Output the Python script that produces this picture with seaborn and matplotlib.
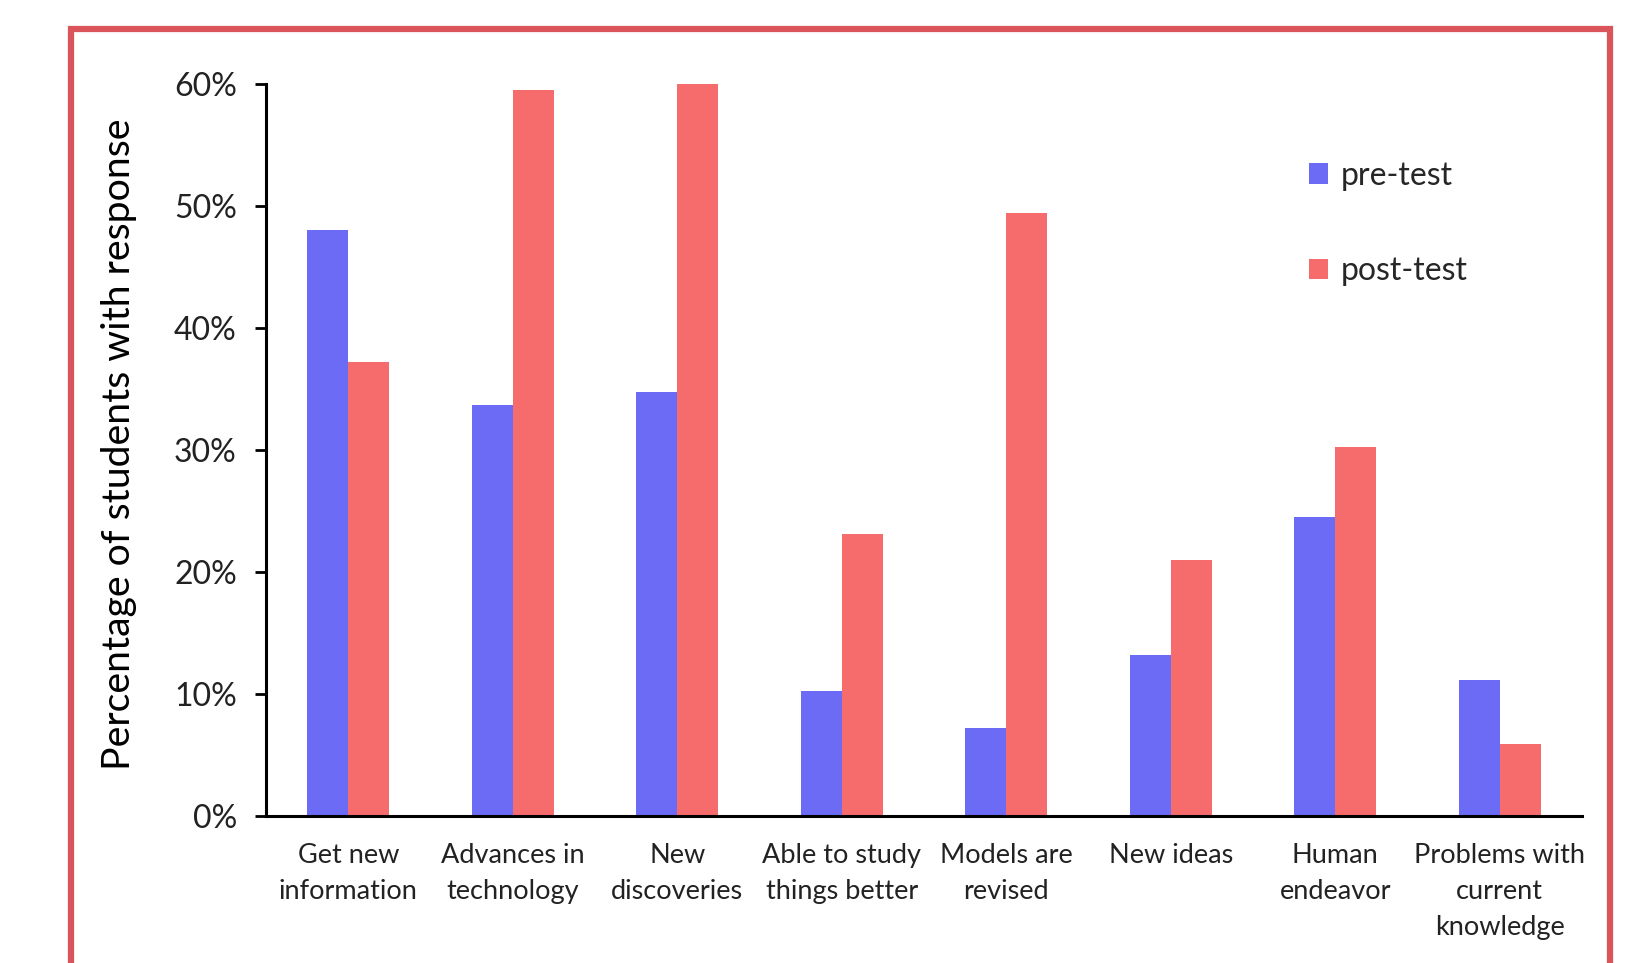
import numpy as np
import pandas as pd
import matplotlib
matplotlib.use("Agg")
import matplotlib.pyplot as plt
import seaborn as sns
from matplotlib.patches import Rectangle, Patch
from matplotlib.ticker import FuncFormatter

categories = ["Get new\ninformation", "Advances in\ntechnology", "New\ndiscoveries",
              "Able to study\nthings better", "Models are\nrevised", "New ideas",
              "Human\nendeavor", "Problems with\ncurrent\nknowledge"]
pre_test = [48.0, 33.7, 34.7, 10.2, 7.2, 13.2, 24.5, 11.1]
post_test = [37.2, 59.5, 60.0, 23.1, 49.4, 21.0, 30.2, 5.9]
series = ["pre-test", "post-test"]
colors = ["#6B6BF5", "#F66B6B"]
yticks = [0, 10, 20, 30, 40, 50, 60]

df = pd.DataFrame({
    "category": categories * 2,
    "value": pre_test + post_test,
    "test": [series[0]] * len(categories) + [series[1]] * len(categories),
})

sns.set_theme(style="white")
plt.rcParams['font.family'] = ['Lato', 'DejaVu Sans']

fig = plt.figure(figsize=(16.5, 9.63), dpi=100)
ax = fig.add_axes([0.1612, 0.1531, 0.7976, 0.7597])

sns.barplot(data=df, x="category", y="value", hue="test", palette=colors,
            width=0.5, gap=0, saturation=1, ax=ax, legend=False,
            linewidth=0, edgecolor="none")

ax.set_xlim(-0.5, len(categories) - 0.5)
ax.set_ylim(0, 60)
ax.set_yticks(yticks)
ax.yaxis.set_major_formatter(FuncFormatter(lambda v, p: f"{int(v)}%"))
ax.set_xlabel("")
ax.set_ylabel("Percentage of students with response", fontsize=28.3, color="black")
ax.yaxis.set_label_coords(-0.098, 0.508)

for s in ["top", "right"]:
    ax.spines[s].set_visible(False)
for s in ["left", "bottom"]:
    ax.spines[s].set_color("black")
    ax.spines[s].set_linewidth(2.2)

ax.tick_params(axis="y", which="major", direction="out", length=8, width=2,
               color="black", labelsize=23, pad=13, left=True, labelcolor="#222222")
ax.tick_params(axis="x", which="major", length=0, labelsize=19.5, pad=20,
               labelcolor="#222222")
for t in ax.get_xticklabels():
    t.set_linespacing(1.55)

handles = [Patch(facecolor=c, edgecolor="none", label=l) for c, l in zip(colors, series)]
fig.legend(handles=handles, loc="upper left", bbox_to_anchor=(0.776, 0.863),
           frameon=False, fontsize=23, handlelength=0.6, handleheight=0.6,
           handletextpad=0.4, labelspacing=2.05)

frame = Rectangle((0.0433, -0.05), 0.9325, 1.0194, transform=fig.transFigure,
                  fill=False, edgecolor="#D9555A", linewidth=4.5, clip_on=False)
fig.patches.append(frame)

fig.savefig("out.png", dpi=100, facecolor="white")
